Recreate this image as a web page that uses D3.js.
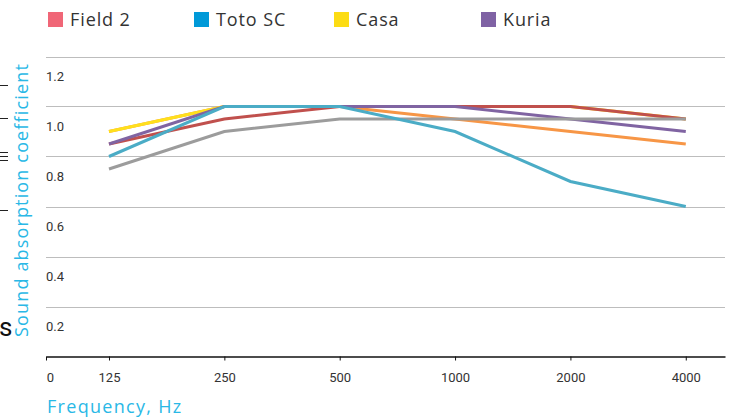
<!DOCTYPE html>
<html>
<head>
<meta charset="utf-8">
<script src="https://cdn.jsdelivr.net/npm/d3@7"></script>
<style>
  body { margin: 0; background: #fff; }
  svg { display: block; font-family: Roboto, "Noto Sans", sans-serif; }
</style>
</head>
<body>
<script>
const width = 733
const height = 418

// data
const freqs = ['125', '250', '500', '1000', '2000', '4000']
const field2 = [0.85, 0.95, 1.0, 1.0, 1.0, 0.95]
const totoSC = [0.8, 1.0, 1.0, 0.9, 0.7, 0.6]
const casa = [0.9, 1.0, 1.0, 1.0, 1.0, 0.95]
const casaB = [0.9, 1.0, 1.0, 0.95, 0.9, 0.85]
const kuria = [0.85, 1.0, 1.0, 1.0, 0.95, 0.9]
const grey = [0.75, 0.9, 0.95, 0.95, 0.95, 0.95]
const yTicks = [0.2, 0.4, 0.6, 0.8, 1.0, 1.2]
const legendNames = ['Field 2', 'Toto SC', 'Casa', 'Kuria']
const legendColors = ['#f06677', '#0099d8', '#fcdc14', '#7f62a4']

// draw order, bottom first
const series = [
  {values: casaB, color: '#f79646'},
  {values: casa, color: '#ffe01c'},
  {values: field2, color: '#c0504d'},
  {values: kuria, color: '#8064a2'},
  {values: grey, color: '#9c9c9c'},
  {values: totoSC, color: '#4bacc6'}
]

const wide = '"Open Sans", Roboto, sans-serif'

const svg = d3.select('body')
  .append('svg')
  .attr('width', width)
  .attr('height', height)

// x is position by octave index, "0" tick sits left of 125
const x = d3.scaleLinear().domain([-0.546, 5.34]).range([46, 725])
const y = d3.scaleLinear().domain([0, 1.2]).range([356.5, 56.5])

// grid
svg.append('g')
  .selectAll('line')
  .data(yTicks)
  .enter()
  .append('line')
  .attr('x1', 46)
  .attr('x2', 725)
  .attr('y1', (d) => Math.round(y(d)) + 0.5)
  .attr('y2', (d) => Math.round(y(d)) + 0.5)
  .attr('stroke', '#bdbdbd')
  .attr('stroke-width', 1)

svg.append('g')
  .selectAll('text')
  .data(yTicks)
  .enter()
  .append('text')
  .attr('x', 46)
  .attr('y', (d) => y(d) + 24)
  .attr('font-size', 13)
  .attr('fill', '#333')
  .text((d) => d.toFixed(1))

// x axis
const xAxis = d3.axisBottom(x)
  .tickValues([-0.546, 0, 1, 2, 3, 4, 5])
  .tickFormat((d, i) => i === 0 ? '0' : freqs[i - 1])
  .tickSize(4)
  .tickSizeOuter(0)
  .tickPadding(12)

const gx = svg.append('g')
  .attr('transform', `translate(0,${y(0)})`)
  .call(xAxis)
gx.select('.domain').attr('stroke', '#111').attr('stroke-width', 1.5)
gx.selectAll('.tick line').attr('stroke', '#111')
gx.selectAll('.tick text')
  .attr('font-size', 13)
  .attr('fill', '#333')
  .attr('font-family', 'Roboto, sans-serif')
gx.select('.tick text').attr('dx', 4)

// lines
const line = d3.line()
  .x((d, i) => x(i))
  .y((d) => y(d))

svg.append('g')
  .selectAll('path')
  .data(series)
  .enter()
  .append('path')
  .attr('d', (d) => line(d.values))
  .attr('fill', 'none')
  .attr('stroke', (d) => d.color)
  .attr('stroke-width', 3)

// legend
const legendX = [48, 194, 334, 481]
const legend = svg.append('g')
  .selectAll('g')
  .data(legendNames)
  .enter()
  .append('g')
  .attr('transform', (d, i) => `translate(${legendX[i]},12)`)
legend.append('rect')
  .attr('width', 15)
  .attr('height', 15)
  .attr('fill', (d, i) => legendColors[i])
legend.append('text')
  .attr('x', 22)
  .attr('y', 14)
  .attr('font-size', 18)
  .attr('font-family', wide)
  .attr('letter-spacing', 0.9)
  .attr('fill', '#333')
  .text((d) => d)

// axis titles
svg.append('text')
  .attr('x', 47)
  .attr('y', 413)
  .attr('font-size', 18)
  .attr('font-family', wide)
  .attr('letter-spacing', 1.3)
  .attr('fill', '#29b8e6')
  .text('Frequency, Hz')

svg.append('text')
  .attr('transform', 'translate(28,200) rotate(-90)')
  .attr('text-anchor', 'middle')
  .attr('font-size', 18)
  .attr('font-family', wide)
  .attr('letter-spacing', 1.15)
  .attr('fill', '#29b8e6')
  .text('Sound absorption coefficient')

// fragments of a neighbouring graphic at the left edge
const edgeMarks = [85, 118, 152, 156, 160, 210]
svg.append('g')
  .selectAll('line')
  .data(edgeMarks)
  .enter()
  .append('line')
  .attr('x1', 0)
  .attr('x2', 8)
  .attr('y1', (d) => d + 0.5)
  .attr('y2', (d) => d + 0.5)
  .attr('stroke', '#222')
  .attr('stroke-width', 1)

svg.append('text')
  .attr('x', -1)
  .attr('y', 336)
  .attr('font-size', 26)
  .attr('fill', '#111')
  .text('s')
</script>
</body>
</html>
